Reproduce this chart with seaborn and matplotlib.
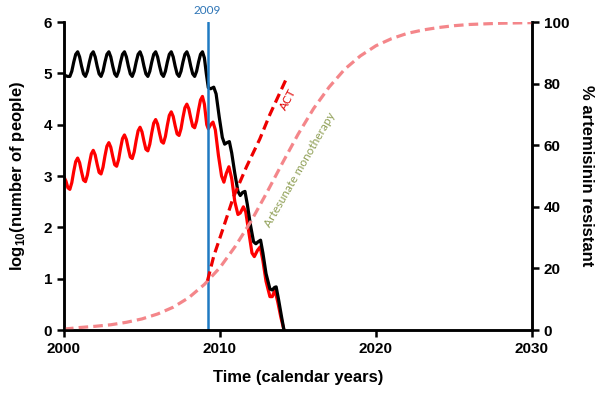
import matplotlib
matplotlib.use('Agg')
import matplotlib.pyplot as plt
import numpy as np
import seaborn as sns

# ---- data ----
# black population (log10), 8 samples per year, 2000.0 .. 2008.875
black_cycles = [
    [4.98, 4.95, 4.94, 4.94, 5.04, 5.22, 5.37, 5.42],
    [5.32, 5.14, 4.99, 4.94, 5.04, 5.22, 5.37, 5.42],
    [5.32, 5.14, 4.99, 4.94, 5.04, 5.22, 5.37, 5.42],
    [5.32, 5.14, 4.99, 4.94, 5.04, 5.22, 5.37, 5.42],
    [5.32, 5.14, 4.99, 4.94, 5.04, 5.22, 5.37, 5.42],
    [5.32, 5.14, 4.99, 4.94, 5.04, 5.22, 5.37, 5.42],
    [5.32, 5.14, 4.99, 4.94, 5.04, 5.22, 5.37, 5.42],
    [5.32, 5.14, 4.99, 4.94, 5.04, 5.22, 5.37, 5.42],
    [5.32, 5.14, 4.99, 4.94, 5.04, 5.22, 5.37, 5.42],
]
black_tail_t = [2009.0, 2009.12, 2009.25, 2009.4, 2009.6, 2009.75, 2009.95, 2010.15, 2010.3,
                2010.45, 2010.6, 2010.75, 2010.95, 2011.15, 2011.3, 2011.45, 2011.6, 2011.75,
                2011.95, 2012.15, 2012.3, 2012.45, 2012.6, 2012.75, 2012.95, 2013.2, 2013.35,
                2013.5, 2013.6, 2013.75, 2013.95, 2014.1]
black_tail = [5.30, 5.00, 4.72, 4.70, 4.73, 4.60, 4.15, 3.75, 3.62,
              3.65, 3.67, 3.45, 3.05, 2.70, 2.62, 2.68, 2.70, 2.45,
              2.05, 1.72, 1.68, 1.72, 1.75, 1.50, 1.10, 0.80, 0.78,
              0.83, 0.84, 0.60, 0.25, 0.0]

# red population (log10)
red_cycles = [
    [2.98, 2.90, 2.77, 2.74, 2.87, 3.09, 3.28, 3.35],
    [3.26, 3.08, 2.92, 2.89, 3.02, 3.24, 3.43, 3.50],
    [3.41, 3.23, 3.07, 3.04, 3.17, 3.39, 3.58, 3.65],
    [3.56, 3.38, 3.22, 3.19, 3.32, 3.54, 3.73, 3.80],
    [3.71, 3.53, 3.37, 3.34, 3.47, 3.69, 3.88, 3.95],
    [3.86, 3.68, 3.52, 3.49, 3.62, 3.84, 4.03, 4.10],
    [4.01, 3.83, 3.67, 3.64, 3.77, 3.99, 4.18, 4.25],
    [4.16, 3.98, 3.82, 3.79, 3.92, 4.14, 4.33, 4.40],
    [4.31, 4.13, 3.97, 3.94, 4.07, 4.29, 4.48, 4.55],
]
red_tail_t = [2009.0, 2009.15, 2009.25, 2009.4, 2009.55, 2009.7, 2009.9, 2010.1, 2010.25,
              2010.4, 2010.57, 2010.75, 2010.95, 2011.15, 2011.3, 2011.5, 2011.65, 2011.85,
              2012.05, 2012.2, 2012.4, 2012.58, 2012.75, 2012.95, 2013.2, 2013.35, 2013.52,
              2013.7, 2013.9, 2014.1]
red_tail = [4.40, 4.00, 3.92, 4.00, 4.05, 3.90, 3.40, 3.00, 2.88,
            3.05, 3.18, 2.95, 2.50, 2.25, 2.28, 2.40, 2.30, 1.90,
            1.50, 1.43, 1.55, 1.62, 1.35, 0.95, 0.65, 0.65, 0.78,
            0.55, 0.25, 0.0]

# % artemisinin resistant
mono_years = list(range(2000, 2031))
mono_pct = [0.3, 0.8, 1.2, 1.7, 2.5, 3.6, 5.2, 7.4, 10.5, 14.8, 20.3, 27.3, 35.4, 44.6,
            54.2, 63.5, 71.9, 78.9, 84.7, 89.0, 92.3, 94.6, 96.3, 97.4, 98.2, 98.8,
            99.2, 99.4, 99.6, 99.7, 99.8]
act_years = [2009.2, 2009.6, 2010.2, 2010.85, 2011.7, 2012.55, 2013.2, 2014.2]
act_pct = [16, 24, 33, 43, 53, 62, 70, 81]

intervention_year = 2009.2

# ---- assemble ----
t_cyc = np.arange(2000, 2009, 0.125)
black_t = np.concatenate([t_cyc, black_tail_t])
black_y = np.concatenate([np.ravel(black_cycles), black_tail])
red_t = np.concatenate([t_cyc, red_tail_t])
red_y = np.concatenate([np.ravel(red_cycles), red_tail])

sns.set_style('ticks')
plt.rcParams['font.family'] = ['Liberation Sans', 'DejaVu Sans']
plt.rcParams['mathtext.fontset'] = 'custom'
plt.rcParams['mathtext.rm'] = 'Liberation Sans'
plt.rcParams['mathtext.bf'] = 'Liberation Sans:bold'
plt.rcParams['text.color'] = 'black'
plt.rcParams['axes.labelcolor'] = 'black'

fig = plt.figure(figsize=(6.06, 3.99), dpi=100)
ax = fig.add_axes([64 / 606, 69 / 399, 468 / 606, 308 / 399])
ax2 = ax.twinx()

sns.lineplot(x=red_t, y=red_y, ax=ax, color='#ff0000', lw=2.3, estimator=None)
sns.lineplot(x=black_t, y=black_y, ax=ax, color='black', lw=2.3, estimator=None)
ax.axvline(intervention_year, color='#1f7ac2', lw=1.8)

sns.lineplot(x=mono_years, y=mono_pct, ax=ax2, color='#f4868a', lw=2.3,
             linestyle=(0, (3, 1.6)), estimator=None)
sns.lineplot(x=act_years, y=act_pct, ax=ax2, color='#ee0000', lw=2.3,
             linestyle=(0, (3, 1.6)), estimator=None)

ax.set_xlim(2000, 2030)
ax.set_ylim(0, 6)
ax2.set_ylim(0, 100)
ax.set_xticks([2000, 2010, 2020, 2030])
ax.set_yticks(range(7))
ax2.set_yticks([0, 20, 40, 60, 80, 100])

for a in (ax, ax2):
    a.spines['top'].set_visible(False)
    for s in ('left', 'right', 'bottom'):
        a.spines[s].set_linewidth(1.8)
        a.spines[s].set_color('black')
    a.tick_params(width=1.8, length=5, labelsize=11, color='black', labelcolor='black')
    for lab in a.get_xticklabels() + a.get_yticklabels():
        lab.set_fontweight('bold')

ax.set_xlabel('Time (calendar years)', fontsize=12, fontweight='bold', labelpad=10)
ax.set_ylabel(r'log$_{\mathbf{10}}$(number of people)', fontsize=12, fontweight='bold', labelpad=12)
ax2.set_ylabel('% artemisinin resistant', fontsize=12, fontweight='bold', rotation=270, labelpad=18)

ax.text(intervention_year, 6.12, '2009', ha='center', va='bottom', fontsize=8.5,
        color='#2e75b6', family=['Lato', 'DejaVu Sans'], clip_on=False)
ax.text(2014.4, 4.5, 'ACT', ha='center', va='center', fontsize=8.5, rotation=62,
        color='#e00000', family=['Lato', 'DejaVu Sans'])
ax.text(2015.1, 3.12, 'Artesunate monotherapy', ha='center', va='center', fontsize=8.5,
        rotation=60, color='#8f9f55', family=['Lato', 'DejaVu Sans'])

fig.savefig('out.png', dpi=100)
